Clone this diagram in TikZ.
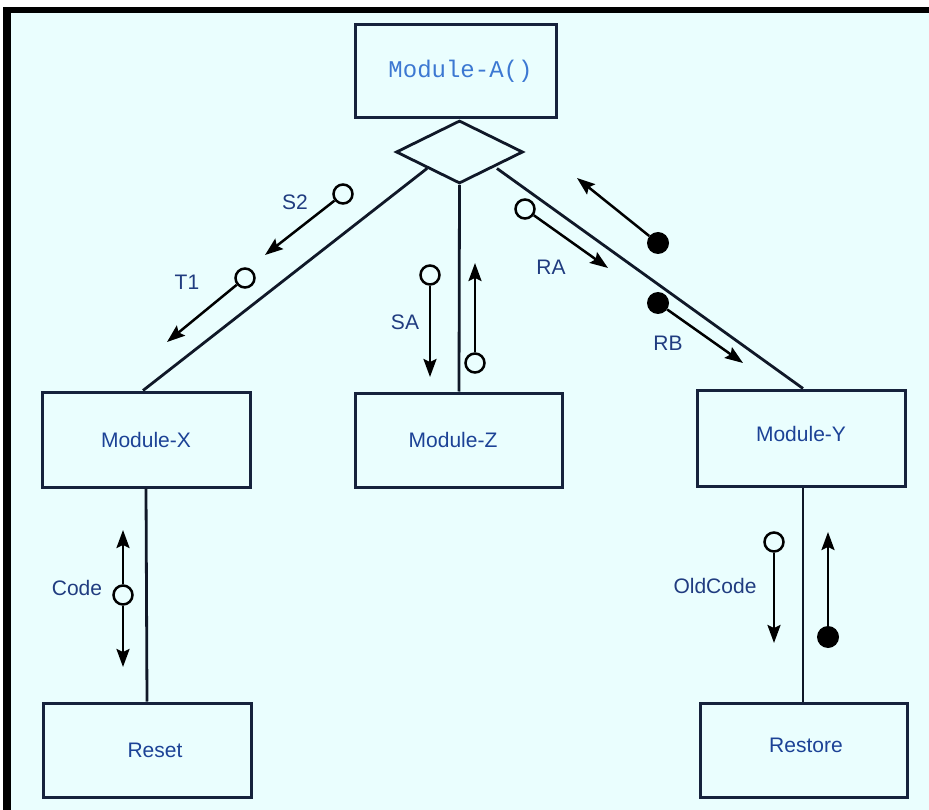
\documentclass[tikz,border=0pt]{standalone}
\usepackage{fontspec}
\setmainfont{Liberation Sans}
\newfontfamily\monof{Liberation Mono}
\usetikzlibrary{arrows.meta,shapes.geometric}
\definecolor{bg}{RGB}{234,254,254}
\definecolor{boxc}{RGB}{22,34,60}
\definecolor{linec}{RGB}{16,24,40}
\definecolor{txtc}{RGB}{28,66,150}
\definecolor{monoc}{RGB}{60,120,210}
\definecolor{lblc}{RGB}{32,60,128}
\tikzset{
  box/.style={draw=boxc, line width=3pt, inner sep=0pt, text=txtc, font=\fontsize{21}{25}\selectfont},
  conn/.style={draw=linec, line width=2.8pt},
  arr/.style={draw=black, line width=2.5pt, -{Stealth[length=18pt,width=13pt,inset=3pt]}},
  ocirc/.style={circle, draw=black, fill=bg, line width=2.5pt, minimum size=19pt, inner sep=0pt},
  fdot/.style={circle, fill=black, minimum size=22pt, inner sep=0pt},
  lbl/.style={text=lblc, font=\fontsize{21}{25}\selectfont, inner sep=0pt}
}
\begin{document}
\begin{tikzpicture}[x=1pt,y=-1pt]
\fill[white] (0,0) rectangle (929,810);
\fill[black] (3,7) rectangle (929,810);
\fill[bg] (11,13) rectangle (929,810);
\useasboundingbox (0,0) rectangle (929,810);

% boxes
\node[box, minimum width=201pt, minimum height=93pt, text=monoc, font=\monof\fontsize{24}{27}\selectfont] (ma) at (455.5,71.5) {\hspace*{10pt}Module-A()};
\node[diamond, draw=linec, line width=2.8pt, fill=bg, minimum width=127pt, minimum height=63pt, inner sep=0pt] (dia) at (459.5,152) {};
\node[box, minimum width=208pt, minimum height=95pt] (mx) at (146,439.5) {Module-X};
\node[box, minimum width=207pt, minimum height=94pt] (mz) at (459,440) {\hspace*{-12pt}Module-Z};
\node[box, minimum width=208pt, minimum height=96pt, text depth=8pt] (my) at (801,438) {Module-Y};
\node[box, minimum width=208pt, minimum height=94pt] (rs) at (147,750) {\hspace*{16pt}Reset};
\node[box, minimum width=207pt, minimum height=94pt, text depth=10pt] (rt) at (803.5,750) {\hspace*{5pt}Restore};

% connectors
\draw[conn] (dia.south west) -- ([xshift=-3pt]mx.north);
\draw[conn] (dia.south) -- (mz.north);
\draw[conn] ([xshift=5pt]dia.south east) -- ([xshift=2pt]my.north);
\draw[conn] (mx.south) -- (rs.north);
\draw[conn] ([xshift=2pt]my.south) -- ([xshift=-0.5pt]rt.north);

% data flow couples
\node[ocirc] (cs2) at (343,194) {};
\coordinate (ts2) at (265,255);
\draw[arr] (cs2) -- (ts2);
\node[lbl] (ls2) at (295,202) {S2};

\node[ocirc] (ct1) at (245,278) {};
\coordinate (tt1) at (167,342);
\draw[arr] (ct1) -- (tt1);
\node[lbl] (lt1) at (187,282) {T1};

\node[ocirc] (csa) at (430,275) {};
\coordinate (tsa) at (430,377);
\draw[arr] (csa) -- (tsa);
\node[lbl] (lsa) at (405,322) {SA};

\node[ocirc] (cup) at (475,363) {};
\coordinate (tup) at (475,263);
\draw[arr] (cup) -- (tup);

\node[ocirc] (cra) at (525,209) {};
\coordinate (tra) at (608,268);
\draw[arr] (cra) -- (tra);
\node[lbl] (lra) at (551,267) {RA};

\node[fdot] (dul) at (658,243) {};
\coordinate (tul) at (577,178);
\draw[arr] (dul) -- (tul);

\node[fdot] (drb) at (658,303) {};
\coordinate (trb) at (743,363);
\draw[arr] (drb) -- (trb);
\node[lbl] (lrb) at (668,343) {RB};

\node[ocirc] (cco) at (123,595) {};
\coordinate (tcu) at (123,530);
\coordinate (tcd) at (123,667);
\draw[arr] (cco) -- (tcu);
\draw[arr] (cco) -- (tcd);
\node[lbl] (lco) at (77,588) {Code};

\node[ocirc] (cod) at (774,542) {};
\coordinate (tod) at (774,643);
\draw[arr] (cod) -- (tod);
\node[lbl] (lod) at (715,586) {OldCode};

\node[fdot] (dru) at (828,637) {};
\coordinate (tru) at (828,532);
\draw[arr] (dru) -- (tru);
\end{tikzpicture}
\end{document}
